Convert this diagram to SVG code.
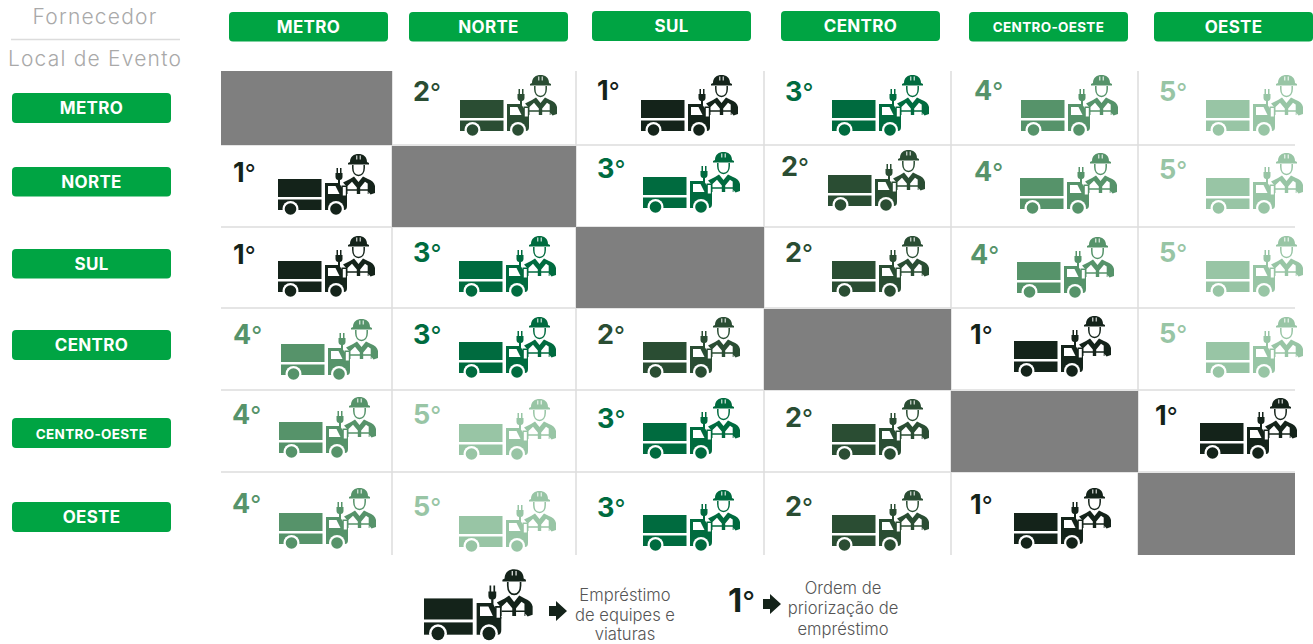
<svg xmlns="http://www.w3.org/2000/svg" width="1313" height="644" viewBox="0 0 1313 644">
<style>
.btn{fill:#00a443}
.bt{fill:#fff;font:700 17px Inter,"Liberation Sans",sans-serif;text-anchor:middle;letter-spacing:.3px}
.sm{font-size:13.5px}
.lt{fill:#a9a9a9;font:300 21px Inter,"Liberation Sans",sans-serif;text-anchor:middle;letter-spacing:1.2px}
.leg{fill:#555;font:300 16.600px Inter,"Liberation Sans",sans-serif;text-anchor:middle}
.gray{fill:#7f7f7f}
.n{font:700 27px Inter,"Liberation Sans",sans-serif;fill:currentColor}
.d{font-weight:400;font-size:24px}
.c1{color:#14231a}.c2{color:#2a4d33}.c3{color:#006b3f}.c4{color:#56936a}.c5{color:#98c5a5}
.grid line{stroke:#dcdcdc;stroke-width:1.5}
</style>
<defs>
<symbol id="ic" width="97" height="62" viewBox="0 0 97 62" overflow="visible">
<g fill="currentColor">
<rect x="0" y="26" width="43.500" height="18"/>
<rect x="0" y="46.500" width="43.500" height="10.500"/>
<path d="M47 30H61L69 42V53Q69 57 66 57H47Z"/>
<path d="M50 33H57.500L61.500 41H50Z" fill="#fff"/>
<circle cx="12.500" cy="56" r="8" fill="#fff"/><circle cx="12.500" cy="56" r="5.800"/>
<circle cx="58" cy="56" r="8" fill="#fff"/><circle cx="58" cy="56" r="5.800"/>
<path d="M58.500 15h1.500v5h2v-5h1.500v5h1v4c0 2-1.500 3-2.500 3v6h-2v-6c-1 0-2.500-1-2.500-3v-4h1Z"/>
<path d="M63.500 32.500h5.500v11h-5.500Z"/>
<path d="M64.800 34h3v8.500h-3Z" fill="#fff"/>
<path d="M72 9C72 3.500 76 1 80.500 1S89 3.500 89 9L91 10V11.500H70V10Z"/>
<path d="M78.300 2.500h1v4h-1ZM81.700 2.500h1v4h-1Z" fill="#fff"/>
<path d="M74.800 12V15C74.800 20 77.500 22.500 80.500 22.500S86.200 20 86.200 15V12" fill="#fff" stroke="currentColor" stroke-width="1.500"/>
<path d="M65 29.500L72 26L76 23.500L80.500 29L85 23.500L90 26Q96 28 97 33V40L92.500 41.500L90.500 39V41H69V34Z"/>
<path d="M69.500 33L74 28.800L78.800 34.500V36.300H69.500ZM82.200 34.500L87 28.800L89.700 30.500V36.300H82.200ZM69.500 37.700H78.800V41.500H69.500ZM82.200 37.700H89.700V41.500H82.200Z" fill="#fff"/>
</g>
</symbol>
</defs>

<g id="grid" class="grid">
<line x1="392" y1="71" x2="392" y2="555"/><line x1="576" y1="71" x2="576" y2="555"/><line x1="764" y1="71" x2="764" y2="555"/><line x1="951" y1="71" x2="951" y2="555"/><line x1="1138" y1="71" x2="1138" y2="555"/>
<line x1="221" y1="145" x2="1295" y2="145"/><line x1="221" y1="227" x2="1295" y2="227"/><line x1="221" y1="308" x2="1295" y2="308"/><line x1="221" y1="390" x2="1295" y2="390"/><line x1="221" y1="472" x2="1295" y2="472"/>
</g>

<g id="axis-title">
<text class="lt" x="95" y="24">Fornecedor</text>
<line x1="11" y1="39.500" x2="180" y2="39.500" stroke="#dcdcdc" stroke-width="1.500"/>
<text class="lt" x="95" y="66">Local de Evento</text>
</g>

<g id="col-metro"><rect class="btn" x="229" y="12" width="159" height="29.500" rx="4"/><text class="bt" x="308.500" y="32.500">METRO</text></g>
<g id="col-norte"><rect class="btn" x="409" y="12" width="159" height="29.500" rx="4"/><text class="bt" x="488.500" y="32.500">NORTE</text></g>
<g id="col-sul"><rect class="btn" x="592" y="11" width="159" height="30" rx="4"/><text class="bt" x="671.500" y="32">SUL</text></g>
<g id="col-centro"><rect class="btn" x="781" y="11" width="159" height="30" rx="4"/><text class="bt" x="860.500" y="32">CENTRO</text></g>
<g id="col-centro-oeste"><rect class="btn" x="969" y="12" width="159" height="29.500" rx="4"/><text class="bt sm" x="1048.500" y="31.500">CENTRO-OESTE</text></g>
<g id="col-oeste"><rect class="btn" x="1154" y="12" width="159" height="29.500" rx="4"/><text class="bt" x="1233.500" y="32.500">OESTE</text></g>

<g id="row-metro"><rect class="btn" x="12" y="93" width="159" height="30" rx="4"/><text class="bt" x="91.500" y="114">METRO</text></g>
<g id="row-norte"><rect class="btn" x="12" y="167" width="159" height="29.500" rx="4"/><text class="bt" x="91.500" y="187.500">NORTE</text></g>
<g id="row-sul"><rect class="btn" x="12" y="249" width="159" height="29.500" rx="4"/><text class="bt" x="91.500" y="269.500">SUL</text></g>
<g id="row-centro"><rect class="btn" x="12" y="330" width="159" height="30" rx="4"/><text class="bt" x="91.500" y="351">CENTRO</text></g>
<g id="row-centro-oeste"><rect class="btn" x="12" y="418" width="159" height="30" rx="4"/><text class="bt sm" x="91.500" y="438.500">CENTRO-OESTE</text></g>
<g id="row-oeste"><rect class="btn" x="12" y="502" width="159" height="30" rx="4"/><text class="bt" x="91.500" y="523">OESTE</text></g>

<g id="blocked">
<rect class="gray" x="221" y="71" width="171" height="74"/>
<rect class="gray" x="392" y="146" width="184" height="81"/>
<rect class="gray" x="576" y="227" width="188" height="81"/>
<rect class="gray" x="764" y="309" width="187" height="81"/>
<rect class="gray" x="951" y="391" width="187" height="81"/>
<rect class="gray" x="1138" y="473" width="157" height="82"/>
</g>

<g id="m-norte" class="c2"><text class="n" x="413" y="101">2<tspan class="d">°</tspan></text><use href="#ic" x="460" y="74"/></g>
<g id="m-sul" class="c1"><text class="n" x="597" y="100">1<tspan class="d">°</tspan></text><use href="#ic" x="641" y="74"/></g>
<g id="m-centro" class="c3"><text class="n" x="785" y="101">3<tspan class="d">°</tspan></text><use href="#ic" x="832" y="74"/></g>
<g id="m-co" class="c4"><text class="n" x="974" y="100">4<tspan class="d">°</tspan></text><use href="#ic" x="1021" y="74"/></g>
<g id="m-oeste" class="c5"><text class="n" x="1159" y="101">5<tspan class="d">°</tspan></text><use href="#ic" x="1206" y="74"/></g>

<g id="n-metro" class="c1"><text class="n" x="233" y="182">1<tspan class="d">°</tspan></text><use href="#ic" x="278" y="153"/></g>
<g id="n-sul" class="c3"><text class="n" x="597" y="178">3<tspan class="d">°</tspan></text><use href="#ic" x="643" y="151"/></g>
<g id="n-centro" class="c2"><text class="n" x="781" y="176">2<tspan class="d">°</tspan></text><use href="#ic" x="828" y="149"/></g>
<g id="n-co" class="c4"><text class="n" x="974" y="181">4<tspan class="d">°</tspan></text><use href="#ic" x="1020" y="152"/></g>
<g id="n-oeste" class="c5"><text class="n" x="1159" y="179">5<tspan class="d">°</tspan></text><use href="#ic" x="1206" y="152"/></g>

<g id="s-metro" class="c1"><text class="n" x="233" y="264">1<tspan class="d">°</tspan></text><use href="#ic" x="278" y="235"/></g>
<g id="s-norte" class="c3"><text class="n" x="413" y="262">3<tspan class="d">°</tspan></text><use href="#ic" x="459" y="235"/></g>
<g id="s-centro" class="c2"><text class="n" x="785" y="262">2<tspan class="d">°</tspan></text><use href="#ic" x="832" y="235"/></g>
<g id="s-co" class="c4"><text class="n" x="970" y="264">4<tspan class="d">°</tspan></text><use href="#ic" x="1017" y="236"/></g>
<g id="s-oeste" class="c5"><text class="n" x="1159" y="262">5<tspan class="d">°</tspan></text><use href="#ic" x="1206" y="235"/></g>

<g id="c-metro" class="c4"><text class="n" x="233" y="344">4<tspan class="d">°</tspan></text><use href="#ic" x="281" y="318"/></g>
<g id="c-norte" class="c3"><text class="n" x="413" y="344">3<tspan class="d">°</tspan></text><use href="#ic" x="459" y="316"/></g>
<g id="c-sul" class="c2"><text class="n" x="597" y="344">2<tspan class="d">°</tspan></text><use href="#ic" x="643" y="316"/></g>
<g id="c-co" class="c1"><text class="n" x="970" y="344">1<tspan class="d">°</tspan></text><use href="#ic" x="1014" y="315"/></g>
<g id="c-oeste" class="c5"><text class="n" x="1159" y="343">5<tspan class="d">°</tspan></text><use href="#ic" x="1206" y="316"/></g>

<g id="co-metro" class="c4"><text class="n" x="232" y="424">4<tspan class="d">°</tspan></text><use href="#ic" x="279" y="396"/></g>
<g id="co-norte" class="c5"><text class="n" x="413" y="424">5<tspan class="d">°</tspan></text><use href="#ic" x="459" y="398"/></g>
<g id="co-sul" class="c3"><text class="n" x="597" y="428">3<tspan class="d">°</tspan></text><use href="#ic" x="643" y="397"/></g>
<g id="co-centro" class="c2"><text class="n" x="785" y="427">2<tspan class="d">°</tspan></text><use href="#ic" x="832" y="398"/></g>
<g id="co-oeste" class="c1"><text class="n" x="1155" y="425">1<tspan class="d">°</tspan></text><use href="#ic" x="1200" y="397"/></g>

<g id="o-metro" class="c4"><text class="n" x="232" y="513">4<tspan class="d">°</tspan></text><use href="#ic" x="279" y="487"/></g>
<g id="o-norte" class="c5"><text class="n" x="413" y="516">5<tspan class="d">°</tspan></text><use href="#ic" x="459" y="490"/></g>
<g id="o-sul" class="c3"><text class="n" x="597" y="517">3<tspan class="d">°</tspan></text><use href="#ic" x="643" y="489"/></g>
<g id="o-centro" class="c2"><text class="n" x="785" y="516">2<tspan class="d">°</tspan></text><use href="#ic" x="832" y="489"/></g>
<g id="o-co" class="c1"><text class="n" x="970" y="514">1<tspan class="d">°</tspan></text><use href="#ic" x="1014" y="487"/></g>

<g id="legend-icon" class="c1">
<use href="#ic" transform="translate(424 568) scale(1.120 1.170)"/>
<path d="M549 606h7v-5l11 10-11 10v-5h-7Z" fill="#14231a"/>
<text class="leg" x="625" y="601">Empréstimo</text><text class="leg" x="625" y="620.500">de equipes e</text><text class="leg" x="625" y="640">viaturas</text>
</g>
<g id="legend-order" class="c1">
<text class="n" x="728" y="612" style="font-size:33px">1<tspan class="d" style="font-size:28px">°</tspan></text>
<path d="M763 599h7v-5l11 10-11 10v-5h-7Z" fill="#14231a"/>
<text class="leg" x="843" y="594">Ordem de</text><text class="leg" x="843" y="614">priorização de</text><text class="leg" x="843" y="635">empréstimo</text>
</g>
</svg>
